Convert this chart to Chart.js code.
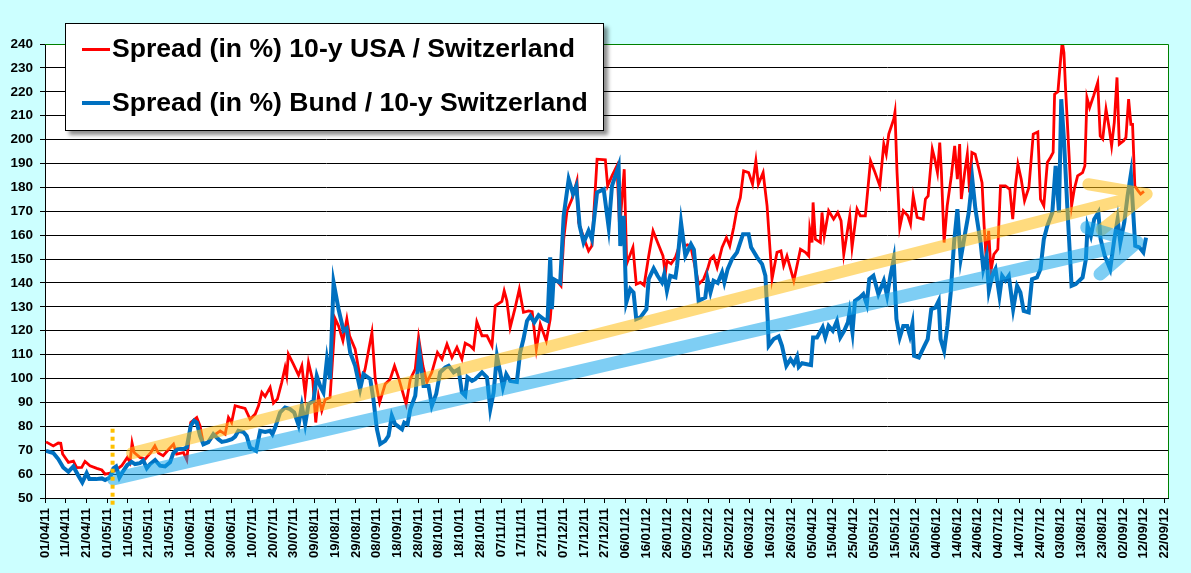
<!DOCTYPE html>
<html>
<head>
<meta charset="utf-8">
<title>Spread USA / Bund vs Switzerland</title>
<script src="https://cdn.jsdelivr.net/npm/chart.js@4.4.1/dist/chart.umd.min.js"></script>
<style>
  html, body { margin: 0; padding: 0; background: #ccffff; }
  #wrap { position: relative; width: 1191px; height: 573px; }
  #legend {
    position: absolute; left: 65px; top: 23px; width: 537px; height: 106px;
    background: #fff; border: 1px solid #000; box-shadow: 4px 4px 4px rgba(0,0,0,0.45);
    font: bold 26.6px "Liberation Sans", Arial, sans-serif; color: #000;
  }
  #legend .swatch { position: absolute; left: 16px; width: 28px; }
  #legend .label { position: absolute; left: 46px; line-height: 30px; white-space: nowrap; }
</style>
</head>
<body>
<div id="wrap">
  <canvas id="myChart" width="1191" height="573"></canvas>
  <div id="legend"></div>
</div>
<script>
// days counted from 01/04/11
const usaDays = [0.5,4,6.4,7.6,8.5,11.3,13.7,15.3,17.7,19.3,21.7,25,27.4,29,31.4,34.3,37,39.7,41,42,43,45.8,48.3,49.4,51,53,54.7,57,59.8,62,63.5,66.8,68.4,70.3,73.2,74.8,76.4,78.8,81.2,84.5,86.9,88.5,90,91.7,94.1,96.5,98.9,101.4,103,104.6,106.2,108.6,110.2,112.1,114.2,115.8,116.6,117.4,119.8,122.3,123.9,125.5,127.1,129.2,130.6,131.9,133.5,135.1,137.5,140,141.6,143.7,145.6,146.9,149.6,152.4,154.4,157.7,159.3,161.4,164.1,166.5,168.6,170.5,174.2,176.2,178.6,180.2,182.3,184.2,186.6,189.3,191.5,193.9,196.3,198.7,201.1,202.7,205.1,206.7,208.3,210.8,213.2,215.6,217.2,220.4,221.5,222.8,224.4,226.8,228.8,230.8,233.3,235,237,238.9,241.8,243.7,245.3,246.9,248.9,250.2,251.8,254.2,256.6,257.4,259.8,262.2,263.8,266.3,270.3,271.4,273.5,275.9,277.2,279.4,280.6,283.6,285.2,287.2,289,291.2,293.3,295.5,298.1,299.2,300,302,304.1,305.7,307.3,308.4,310,311.6,315.3,317.7,319.6,321,322.5,324.2,326.6,328.7,330.3,332.2,333.8,335.4,337,339.4,341.3,342.9,344.1,346.4,348.3,350.7,353.1,355,356.3,357.9,361.2,364.4,366.8,368.4,368.9,370,370.5,371.6,374,374.8,375.9,378,380.4,382.4,384,385.3,388.2,389.3,391.7,393.3,395.7,398.2,400.1,402.7,404.6,405.8,407,409.4,410,411,412.3,414,416.2,417.5,418.8,420.7,423.6,424.7,426,428,429.2,430.5,431.6,432.4,433.7,435.2,437.2,438.8,440.1,441.2,442,443.6,444.9,446,447.1,448.7,450.3,452,453,454,455.2,456.3,457.7,459.6,460.9,463.3,465.4,466.8,468.1,469.3,470.9,472.5,474.6,476.7,478.9,480.2,481.8,483.5,485,486.3,487,488.6,489.9,490.7,491.5,492.3,494,495.2,496.5,498.1,500.5,501.6,502.6,503.9,505.8,507.8,509,510.2,511.8,513.4,514.5,515.8,517.1,518.2,520.3,521.4,522.7,523.8,524.6,525.7,527.3,528.5,530.1];
const usaSpread = [73.5,71.8,73,72.9,68.4,64.9,65.4,62.7,62.8,65.3,63.5,62.4,61.7,60,60.4,61.8,63.5,67,64.9,73,69,67,66.3,67.4,69,71.8,68.8,67.7,70.5,72.5,68.4,69,66,81.6,83.7,80.2,72.5,73.4,76,78.1,76.7,83.7,81.6,88.6,88,87.5,83,85.1,88.6,94.2,92.5,96.3,89.7,91.4,98.4,104.6,101.1,110.2,106,101.4,105.3,93.5,106.7,99,81.6,92.8,86.5,91.1,92.1,125,122,115.8,124.9,117.9,112.3,98.4,103.9,119.3,99.7,90,97.7,99.7,105.3,100.5,89.3,99.7,103.9,117.2,105.3,98.4,102.6,110.9,108.1,114.4,108.8,113,108.1,114.8,113.7,112.3,123.7,117.9,117.9,113.7,130.4,132.3,136.7,132.5,121.4,129.7,137.4,127.7,128.3,128,112.3,122.8,115.8,124.9,141.6,140.9,138.8,158.3,170.2,175.1,182.7,165.3,159,153.4,155.5,191.8,191.5,180.6,184.8,189,162.5,187.6,148,154.9,139.5,140.2,139,151.3,161.8,156.9,151.3,143.7,149.2,148,150.7,154.9,161.1,155.5,156,154.9,139.5,141.6,145.8,150,151.3,146.5,154.9,159,155.5,163.2,170.9,175.7,186.9,186.2,181.3,191.1,181.3,186.2,172.3,141.6,152.8,153.4,147.2,151.3,140.9,154.1,152.8,151.3,162.5,156.9,173.7,158.3,156.9,169.5,159.7,170.2,166.7,169.5,166,152,168.1,154.9,170.9,168.1,168.1,191.1,186.9,180.6,198.1,193.9,202.3,208.5,211.5,186.2,163.2,170.2,168.1,164.6,176.4,167.4,166.7,175.1,176.4,196,191.8,186.2,198.7,186.2,156.9,172.3,184.8,197.4,183.4,198.1,175.1,186.2,193.9,177.9,194.6,193.9,188.3,182,164,150,161.8,145,152,154.1,180.6,180.6,179.2,166.7,180.6,189.7,183.4,174.4,180,202.3,203.2,175.1,172.3,190.4,192.5,194.6,219,220,233.6,241,236.4,221.1,193.2,172.3,179.2,184.8,186.2,189,217.6,213.4,218.3,223.9,201.5,200.2,212.7,204.4,197.4,207.2,226,198.1,199.5,200.9,216.9,206.4,206.4,180.6,178.5,177.2,178.3];

const bundDays = [0.5,4,6.4,8.8,11.3,13.7,16.1,18,20.1,21.4,24.6,27.4,29,31.4,33,34.3,35.9,37.8,39.7,41.8,43.4,45.8,47.4,49.1,50.7,53.1,55.5,57.9,60.3,61.9,63.9,66.8,68.4,70.3,71.9,73.2,74.8,76.4,78.8,81.2,83.6,85.3,87.7,90.1,91.7,93.3,95.7,97.3,98.9,101.8,103.8,106.2,108.6,109.7,111,113.4,115.8,118.2,120.2,122.3,123.9,125.5,127.1,129.5,131.1,132.7,134.3,136,137.5,139.2,141.6,144,145.5,147.2,149.6,152,153.6,156.9,158.4,160.1,161.7,164.1,165.7,167.3,168.9,172.2,173.3,174.9,176.2,178.6,180.6,182.6,185,186.6,188.7,190.6,193.1,194.7,197.1,199.5,201.1,202.7,203.8,206,207.5,210.8,213.2,214.8,216.4,218,219.6,220.9,222.5,224.4,227.6,229.2,230.8,232.5,234.1,236,238.1,240.5,242.4,243.7,244.5,245.3,248.5,250.2,252.6,254.7,256.3,257.9,259.8,262.2,263.8,266.3,269.5,271.9,273.5,276.7,277.5,279.1,280.4,282.3,283.9,285.2,287.2,290.1,291.2,293.6,295.5,297.6,298.7,300,301.6,304.1,304.9,306.8,308.9,311.6,313,315.3,318.5,319.6,321,322.5,324.5,326.6,327.7,329.3,331.4,333.8,335.1,336.7,339.4,340.6,343.5,345.9,347.5,348.6,349.1,351.5,353.9,355.5,357.6,359.6,361.2,362.8,363.6,365.2,367.5,369.5,370.5,372.4,375.1,376.4,378,380,382,383.6,385.5,387.3,388.1,389.5,390.7,393.1,394.7,396.4,397.6,399.6,402,404.6,406.2,407.8,409.4,410.7,412.3,414,415.9,417.2,418.4,419.2,421.5,424.2,425.8,427.5,429.5,431.1,432,433.7,435.3,436.9,438.5,440.1,441.7,443.6,445.6,447.3,448.8,451.3,452.6,454.2,455.3,456.9,458.5,460.4,461.7,463.3,464.9,467,468.9,470.5,472.1,474.5,476.1,478.5,480.2,481.8,483.5,485.9,487.5,489.1,490.2,491.5,493.1,495.2,497.2,500.5,502.1,502.9,504.5,506.1,508.1,509.2,511.2,513.8,515.8,517.4,518.7,520.6,522.2,523.8,525.9,527.9,529.8,531.1];
const bundSpread = [69.7,68.8,66.3,62.8,61,63.2,59.3,56.5,60.4,57.9,57.9,58.2,57.5,58.6,62.4,63.2,58.6,61.4,63.8,65.1,64.2,64.6,65.7,62.5,64.2,65.9,63.5,63.2,64.9,68.8,70.5,70.5,71.2,80.2,82.3,81.6,76,72.5,73.4,76.7,74.6,73.5,73.9,74.6,75.7,78.1,77.6,76,71.2,69.7,78.1,77.6,78.1,76.7,79.5,85.8,87.9,87.2,85.8,80.5,88.6,80.9,89.3,90.7,101.1,96.9,94.2,108.1,99.7,140.2,129,120,121,110.9,105.3,95.6,101.8,99.7,91.4,78.8,72.6,73.9,76,84.4,80.9,78.8,81.6,80.9,87.2,92.8,110.9,96.9,96.9,88.6,93.5,102.6,104.6,105.3,102.6,103.9,94.2,92.8,100.5,99,99.7,102.6,100.5,87.2,94.2,109.5,102.6,96.3,101.8,99,98.6,110.9,116.5,124.1,126.2,123.5,126.5,124.9,124.1,150.7,129,141.6,140,168.1,183.4,177.2,180.6,163.9,156.9,161.8,158.3,177.9,179.2,163.2,180.6,189,155.5,168.1,131.8,137.5,136,124.9,125.6,129,141.6,146.1,143,140.2,143.7,136.7,143,142.3,147.2,165.3,151.3,156.2,154,132.5,133.9,141.6,136,140.9,140,144.4,140.2,145.8,150,152.8,156.2,160.4,160.4,154.9,150.7,147.9,143,124.9,113.7,116.5,117.6,113.7,105.3,108.1,106,109.2,104.9,106.4,106,105.6,117.2,117.2,121.4,117.2,122,120,124.1,117.2,120,123.5,127.7,119.3,132.5,133.9,135.3,131.1,141.6,143,135.3,140.9,134.6,143,150,124.9,117.2,122,122,117.9,122.8,109.5,108.8,113.7,116.5,129,129.7,132.5,116.5,111.6,122,136,156.9,170.9,150,159.7,169.5,183.4,170.9,156.9,145.8,151.3,136.7,143,145.8,134.6,143,141,143,129,138.8,136,128.3,127.7,141.6,142.3,145.8,158.3,163.9,169.5,189,169.5,216.9,200.2,172.3,138.8,139.5,142.3,150,163.9,159.7,166.7,169.5,158.3,151.3,145.8,158.3,166.7,156.9,165.3,176.4,185.5,155.5,154.9,152.8,159];

const seriesLabels = ['Spread (in %) 10-y USA / Switzerland', 'Spread (in %) Bund / 10-y Switzerland'];
const yTicks = { min: 50, max: 240, step: 10 };
const xTicks = { min: 0, max: 541.7, step: 10 };

const startDate = Date.UTC(2011, 3, 1);
const pad = n => String(n).padStart(2, '0');
function dayLabel(d) {
  const t = new Date(startDate + d * 86400000);
  return pad(t.getUTCDate()) + '/' + pad(t.getUTCMonth() + 1) + '/' + pad(t.getUTCFullYear() % 100);
}
const toPoints = (xs, ys) => xs.map((x, i) => ({ x: x, y: ys[i] }));

const FONT = '"Liberation Sans", Arial, sans-serif';

// trend arrows and marker, in data units (day, value)
const trendArrows = [
  { color: 'rgba(255,190,20,0.55)', width: 12, from: [42, 68.8], to: [531.4, 177.2], barbs: [[503.3, 181.3], [509.7, 162.3]] },
  { color: 'rgba(20,165,235,0.55)', width: 13, from: [33, 58], to: [526.8, 157.1], barbs: [[502.5, 163.2], [508.9, 143.7]] }
];
const markerDay = 32.6;

const decorations = {
  id: 'decorations',
  beforeDraw(chart) {
    const { ctx, chartArea: a } = chart;
    ctx.save();
    ctx.fillStyle = '#fff';
    ctx.fillRect(a.left, a.top, a.right - a.left, a.bottom - a.top);
    ctx.restore();
  },
  afterDatasetsDraw(chart) {
    const { ctx, scales: { x, y } } = chart;
    const px = p => [x.getPixelForValue(p[0]), y.getPixelForValue(p[1])];
    ctx.save();
    ctx.lineCap = 'round';
    ctx.lineJoin = 'round';
    trendArrows.forEach(ar => {
      const s = px(ar.from), t = px(ar.to);
      ctx.beginPath();
      ctx.moveTo(s[0], s[1]);
      ctx.lineTo(t[0], t[1]);
      ar.barbs.forEach(b => {
        const q = px(b);
        ctx.moveTo(q[0], q[1]);
        ctx.lineTo(t[0], t[1]);
      });
      ctx.strokeStyle = ar.color;
      ctx.lineWidth = ar.width;
      ctx.stroke();
    });
    // dotted marker
    const mx = x.getPixelForValue(markerDay);
    ctx.beginPath();
    ctx.setLineDash([4, 4]);
    ctx.lineCap = 'butt';
    ctx.moveTo(mx, y.getPixelForValue(79));
    ctx.lineTo(mx, y.getPixelForValue(46.5));
    ctx.strokeStyle = '#ffc000';
    ctx.lineWidth = 4;
    ctx.stroke();
    ctx.restore();
  },
  afterDraw(chart) {
    const { ctx, chartArea: a } = chart;
    ctx.save();
    ctx.strokeStyle = '#008000';
    ctx.lineWidth = 1;
    ctx.beginPath();
    ctx.moveTo(a.left, a.top + 0.5);
    ctx.lineTo(a.right + 0.5, a.top + 0.5);
    ctx.lineTo(a.right + 0.5, a.bottom);
    ctx.stroke();
    ctx.restore();
  }
};

const ctx = document.getElementById('myChart');

const myChart = new Chart(ctx, {
  type: 'line',
  data: {
    datasets: [{
      label: seriesLabels[0],
      data: toPoints(usaDays, usaSpread),
      borderColor: '#ff0000',
      borderWidth: 2.8,
      pointRadius: 0,
      tension: 0,
      order: 2
    }, {
      label: seriesLabels[1],
      data: toPoints(bundDays, bundSpread),
      borderColor: '#0070c0',
      borderWidth: 4,
      pointRadius: 0,
      tension: 0,
      order: 1
    }]
  },
  options: {
    responsive: false,
    animation: false,
    layout: { padding: { left: 0, right: 23, top: 44, bottom: 0 } },
    plugins: { legend: { display: false }, tooltip: { enabled: false } },
    scales: {
      x: {
        type: 'linear',
        min: xTicks.min,
        max: xTicks.max,
        afterFit(s) { s.height = 75; },
        ticks: {
          stepSize: xTicks.step,
          includeBounds: false,
          autoSkip: false,
          minRotation: 90,
          maxRotation: 90,
          padding: 5,
          color: '#000',
          font: { family: FONT, size: 13, weight: 'bold' },
          callback: v => dayLabel(v)
        },
        grid: { drawOnChartArea: false, color: '#000', tickLength: 5 },
        border: { color: '#000', width: 1 }
      },
      y: {
        min: yTicks.min,
        max: yTicks.max,
        afterFit(s) { s.width = 45; },
        ticks: {
          stepSize: yTicks.step,
          padding: 7,
          color: '#000',
          font: { family: FONT, size: 13.5, weight: 'bold' }
        },
        grid: { color: '#000', tickLength: 5 },
        border: { color: '#000', width: 1 }
      }
    }
  },
  plugins: [decorations]
});

// html legend built from the datasets
const legendEl = document.getElementById('legend');
const swatchTop = [24, 76.5];
const labelTop = [9, 62.5];
myChart.data.datasets.forEach((ds, i) => {
  const sw = document.createElement('div');
  sw.className = 'swatch';
  sw.style.top = swatchTop[i] + 'px';
  sw.style.height = (i === 0 ? 3 : 4) + 'px';
  sw.style.background = ds.borderColor;
  const lb = document.createElement('div');
  lb.className = 'label';
  lb.style.top = labelTop[i] + 'px';
  lb.textContent = ds.label;
  legendEl.appendChild(sw);
  legendEl.appendChild(lb);
});
</script>
</body>
</html>
